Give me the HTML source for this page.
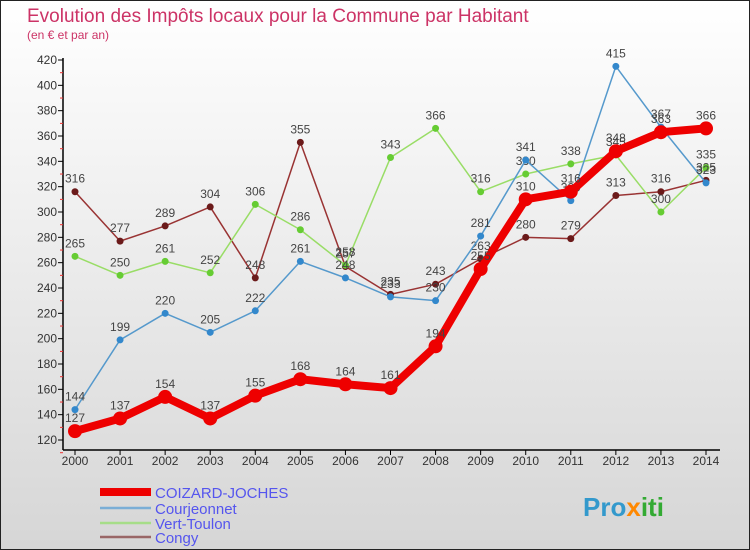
<!DOCTYPE html>
<html><head><meta charset="utf-8"><style>
body{margin:0}
svg{display:block;font-family:"Liberation Sans","DejaVu Sans",sans-serif}
</style></head><body>
<svg id="c" width="750" height="550">
<defs><linearGradient id="bg" x1="0" y1="0" x2="0" y2="1"><stop offset="0" stop-color="#ffffff"/><stop offset="1" stop-color="#d6d6d6"/></linearGradient></defs>
<rect x="0.5" y="0.5" width="749" height="549" fill="url(#bg)" stroke="#222"/>
<text x="27" y="22" font-size="19" fill="#cc3366">Evolution des Impôts locaux pour la Commune par Habitant</text>
<text x="27" y="39" font-size="12" fill="#cc3366">(en € et par an)</text>
<g id="axes"></g><g id="series"></g><g id="legend"></g>
<g><text x="583" y="516" font-size="26" font-weight="bold" fill="#3399cc">Pro<tspan fill="#ff8800">x</tspan><tspan fill="#33aa33">iti</tspan></text></g>
</svg>
<script>
const years=[2000,2001,2002,2003,2004,2005,2006,2007,2008,2009,2010,2011,2012,2013,2014];
const yTicks=[120,140,160,180,200,220,240,260,280,300,320,340,360,380,400,420];
const coizard=[127,137,154,137,155,168,164,161,194,255,310,316,348,363,366];
const courjeonnet=[144,199,220,205,222,261,248,233,230,281,341,309,415,367,323];
const vertToulon=[265,250,261,252,306,286,258,343,366,316,330,338,345,300,335];
const congy=[316,277,289,304,248,355,257,235,243,263,280,279,313,316,325];
const NS="http://www.w3.org/2000/svg";
const xS=i=>75+i*(706-75)/14;
const yS=v=>440-(v-120)*(380/300);
function mk(tag,attrs,parent){const e=document.createElementNS(NS,tag);for(const k in attrs)e.setAttribute(k,attrs[k]);parent.appendChild(e);return e;}
const ax=document.getElementById('axes');
let yl=mk('line',{x1:63,y1:58,x2:63,y2:450,stroke:'#000','stroke-width':1.5},ax);


let xl=mk('line',{x1:63,y1:450,x2:720,y2:450,stroke:'#000','stroke-width':1.5},ax);


yTicks.forEach(v=>{
  mk('line',{x1:58,y1:yS(v),x2:63,y2:yS(v),stroke:'#000'},ax);
  mk('line',{x1:60,y1:yS(v)+12.7,x2:63,y2:yS(v)+12.7,stroke:'#e33'},ax);
  const t=mk('text',{x:57,y:yS(v)+4,'font-size':12,'text-anchor':'end',fill:'#333'},ax);t.textContent=v;
  
  
});
years.forEach((y,i)=>{
  mk('line',{x1:xS(i),y1:450,x2:xS(i),y2:455,stroke:'#000'},ax);
  const t=mk('text',{x:xS(i),y:465,'font-size':12,'text-anchor':'middle',fill:'#333'},ax);t.textContent=y;
  
  
});
const sg=document.getElementById('series');
const defs=[
 {d:congy,c:'#993333',pc:'#6b1a1a',w:1.5,r:3.5,n:'congy'},
 {d:vertToulon,c:'#99dd66',pc:'#66cc33',w:1.5,r:3.5,n:'vert-toulon'},
 {d:courjeonnet,c:'#5599cc',pc:'#3388cc',w:1.5,r:3.5,n:'courjeonnet'},
 {d:coizard,c:'#ee0000',pc:'#ee0000',w:8,r:7,n:'coizard-joches'}];
defs.forEach(s=>{
  const g=mk('g',{},sg);
  
  
  const p=mk('polyline',{points:s.d.map((v,i)=>xS(i)+','+yS(v)).join(' '),fill:'none',stroke:s.c,'stroke-width':s.w,'stroke-linejoin':'round'},g);
  
  
  s.d.forEach((v,i)=>{
    const c=mk('circle',{cx:xS(i),cy:yS(v),r:s.r,fill:s.pc},g);
    
    
    const t=mk('text',{x:xS(i),y:yS(v)-9,'font-size':12,'text-anchor':'middle',fill:'#444'},g);t.textContent=v;
    
    
  });
});
const lg=document.getElementById('legend');
[['COIZARD-JOCHES','#ee0000',8,492],['Courjeonnet','#7aaed6',2.5,508],['Vert-Toulon','#a6dd88',2.5,523],['Congy','#996666',2.5,537]].forEach(l=>{
  const g=mk('g',{},lg);
  
  
  mk('line',{x1:100,y1:l[3],x2:151,y2:l[3],stroke:l[1],'stroke-width':l[2]},g);
  const t=mk('text',{x:155,y:l[3]+6,'font-size':15,fill:'#5555ee'},g);t.textContent=l[0];
});
</script>
</body></html>
